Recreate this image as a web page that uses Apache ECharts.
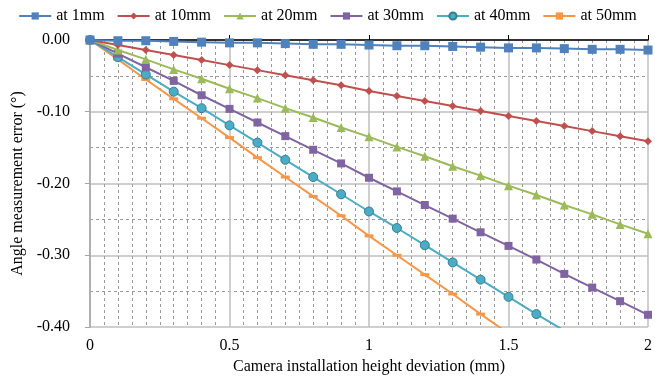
<!DOCTYPE html>
<html>
<head>
<meta charset="utf-8">
<script src="https://cdn.jsdelivr.net/npm/echarts@6/dist/echarts.min.js"></script>
<style>
  html, body { margin: 0; padding: 0; background: #fff; }
  #chart { width: 655px; height: 380px; }
</style>
</head>
<body>
<div id="chart"></div>
<script>
// x: camera installation height deviation (mm)
const deviation = [0, 0.1, 0.2, 0.3, 0.4, 0.5, 0.6, 0.7, 0.8, 0.9, 1.0,
  1.1, 1.2, 1.3, 1.4, 1.5, 1.6, 1.7, 1.8, 1.9, 2.0];

const seriesNames = ['at 1mm', 'at 10mm', 'at 20mm', 'at 30mm', 'at 40mm', 'at 50mm'];

const at1mm = [0, -0.001, -0.001, -0.002, -0.003, -0.004, -0.004, -0.005, -0.006, -0.006, -0.007,
  -0.008, -0.008, -0.009, -0.010, -0.011, -0.011, -0.012, -0.013, -0.013, -0.014];
const at10mm = [0, -0.007, -0.014, -0.021, -0.028, -0.035, -0.042, -0.049, -0.056, -0.063, -0.071,
  -0.078, -0.085, -0.092, -0.099, -0.106, -0.113, -0.120, -0.127, -0.134, -0.141];
const at20mm = [0, -0.014, -0.027, -0.041, -0.054, -0.068, -0.081, -0.095, -0.108, -0.122, -0.135,
  -0.149, -0.162, -0.176, -0.189, -0.203, -0.216, -0.230, -0.243, -0.257, -0.270];
const at30mm = [0, -0.019, -0.038, -0.057, -0.077, -0.096, -0.115, -0.134, -0.153, -0.172, -0.192,
  -0.211, -0.230, -0.249, -0.268, -0.287, -0.306, -0.326, -0.345, -0.364, -0.383];
const at40mm = [0, -0.024, -0.048, -0.072, -0.095, -0.119, -0.143, -0.167, -0.191, -0.215, -0.239,
  -0.262, -0.286, -0.310, -0.334, -0.358, -0.382, -0.405, -0.429, -0.453, -0.477];
const at50mm = [0, -0.027, -0.055, -0.082, -0.109, -0.136, -0.164, -0.191, -0.218, -0.245, -0.273,
  -0.300, -0.327, -0.354, -0.382, -0.409, -0.436, -0.463, -0.491, -0.518, -0.545];

const yTicks = ['0.00', '-0.10', '-0.20', '-0.30', '-0.40'];
const xTicks = ['0', '0.5', '1', '1.5', '2'];

const allValues = [at1mm, at10mm, at20mm, at30mm, at40mm, at50mm];
const colors = ['#4F81BD', '#C0504D', '#9BBB59', '#8064A2', '#4BACC6', '#F79646'];
const symbols = ['rect', 'diamond', 'triangle', 'rect', 'circle', 'rect'];
const symbolSizes = [9, 8, 9, 8, 9, [9, 3]];
const borders = ['#4F81BD', '#C0504D', '#9BBB59', '#8064A2', '#357D91', '#F79646'];

const font = '"Liberation Serif", "Times New Roman", serif';

const chart = echarts.init(document.getElementById('chart'), null, { renderer: 'canvas' });

chart.setOption({
  animation: false,
  textStyle: { fontFamily: font },
  legend: {
    top: 3,
    left: 'center',
    itemWidth: 32,
    itemHeight: 9,
    itemGap: 12,
    textStyle: { fontFamily: font, fontSize: 16, color: '#000' },
    data: seriesNames,
  },
  grid: { left: 90, right: 5, top: 40, bottom: 53 },
  xAxis: [
    {
      type: 'value',
      min: 0,
      max: 2,
      interval: 0.5,
      position: 'bottom',
      name: 'Camera installation height deviation (mm)',
      nameLocation: 'middle',
      nameGap: 31,
      nameTextStyle: { fontFamily: font, fontSize: 16, color: '#000' },
      axisLine: { show: false, onZero: false },
      axisTick: { show: false },
      axisLabel: {
        fontFamily: font,
        fontSize: 16,
        color: '#000',
        margin: 11,
        formatter: (v) => xTicks[Math.round(v / 0.5)],
      },
      splitLine: { show: true, lineStyle: { color: '#BFBFBF', width: 1.5 } },
      minorTick: { show: false, splitNumber: 10 },
      minorSplitLine: { show: true, lineStyle: { color: '#9A9A9A', type: [3, 3], width: 1 } },
    },
    {
      type: 'value',
      min: 0,
      max: 2,
      interval: 0.5,
      position: 'top',
      axisLine: { show: true, onZero: false, lineStyle: { color: '#000', width: 1.5 } },
      axisTick: { show: true, inside: false, length: 5, lineStyle: { color: '#000' } },
      axisLabel: { show: false },
      splitLine: { show: false },
    },
  ],
  yAxis: {
    type: 'value',
    min: -0.4,
    max: 0,
    interval: 0.1,
    name: 'Angle measurement error (°)',
    nameLocation: 'middle',
    nameGap: 64,
    nameTextStyle: { fontFamily: font, fontSize: 16, color: '#000' },
    axisLine: { show: true, lineStyle: { color: '#A6A6A6', width: 1.5 } },
    axisTick: { show: true, length: 5, lineStyle: { color: '#A6A6A6' } },
    axisLabel: {
      fontFamily: font,
      fontSize: 16,
      color: '#000',
      margin: 20,
      formatter: (v) => yTicks[Math.round(-v / 0.1)],
    },
    splitLine: { show: true, lineStyle: { color: '#BFBFBF', width: 1.5 } },
    minorTick: { show: false, splitNumber: 2 },
    minorSplitLine: { show: true, lineStyle: { color: '#9A9A9A', type: [3, 3], width: 1 } },
  },
  series: seriesNames.map((name, i) => ({
    name,
    type: 'line',
    xAxisIndex: 0,
    data: deviation.map((x, j) => [x, allValues[i][j]]),
    symbol: symbols[i],
    symbolSize: symbolSizes[i],
    showAllSymbol: true,
    clip: true,
    lineStyle: { color: colors[i], width: 2 },
    itemStyle: { color: colors[i], borderColor: borders[i], borderWidth: i === 4 ? 1 : 0 },
    z: 10 - i,
  })),
});
</script>
</body>
</html>
